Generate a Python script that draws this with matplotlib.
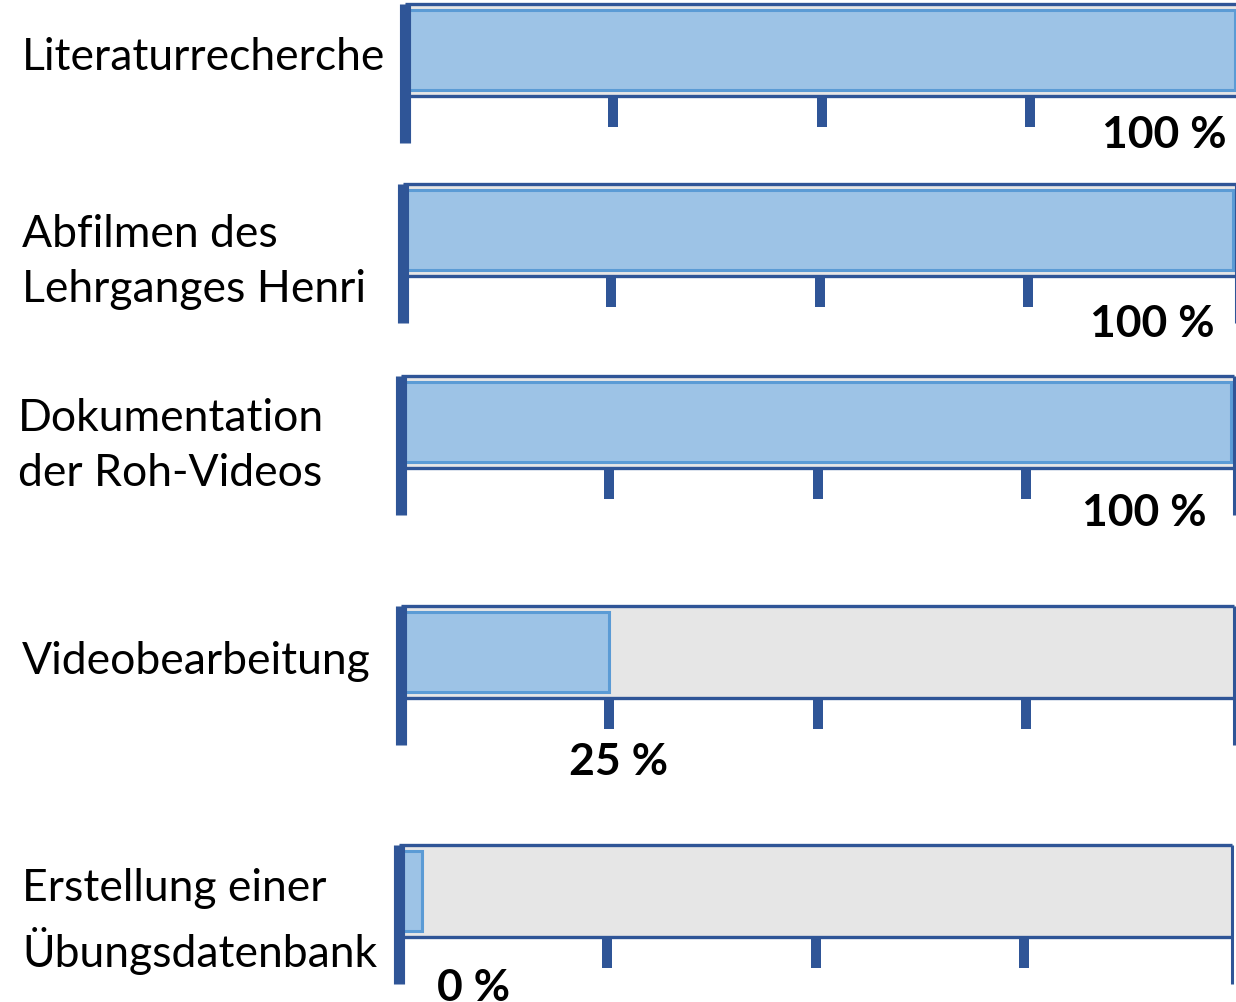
import matplotlib
matplotlib.use('Agg')
import numpy as np
from matplotlib import pyplot as plt
from matplotlib.patches import Rectangle

# data
tasks = ['Literaturrecherche',
         'Abfilmen des\nLehrganges Henri',
         'Dokumentation\nder Roh-Videos',
         'Videobearbeitung',
         'Erstellung einer\nÜbungsdatenbank']
progress = [100, 100, 100, 25, 0]
tick_marks = [25, 50, 75]

# layout in pixels (bars are a bit hand placed in the original)
bar_top = [5, 185, 377, 607, 846]
bar_left = [405, 403, 401, 401, 399]
label_x = [22, 22, 18, 22, 22]
label_y = [57, 262, 446, 662, 922]
pct_dx = [10, 0, -6, 9, 0]
pct_dy = [38, 47, 44, 63, 50]
BAR_H = 92
SCALE = 8.33  # pixels per percent

DARK = '#2F5597'
GRAY = '#E6E6E6'
FILL = '#9DC3E6'
FILL_EDGE = '#5B9BD5'

plt.rcParams['font.family'] = ['Lato', 'DejaVu Sans']

fig = plt.figure(figsize=(12.36, 10.03), dpi=100)
ax = fig.add_axes([0, 0, 1, 1])
ax.set_xlim(-405 / SCALE, (1236 - 405) / SCALE)
ax.set_ylim(1003, 0)
ax.axis('off')

for i, (task, v) in enumerate(zip(tasks, progress)):
    dx = (bar_left[i] - 405) / SCALE
    top = bar_top[i]
    bot = top + BAR_H
    # background track
    ax.add_patch(Rectangle((dx, top), 100, BAR_H, facecolor=GRAY, edgecolor='none', zorder=1))
    # progress fill (0 % still shows a small sliver)
    w = min(max(v, 2.8), 99.6)
    ax.add_patch(Rectangle((dx, top + 6), w, BAR_H - 12, facecolor=FILL,
                           edgecolor=FILL_EDGE, linewidth=2.2, zorder=2))
    ax.hlines([top, bot], dx, dx + 100, color=DARK, linewidth=2.4, zorder=3)
    ax.vlines(dx + 100, top, bot + 47, color=DARK, linewidth=2.2, zorder=3)
    ax.vlines(dx, top, bot + 47, color=DARK, linewidth=8, zorder=4)
    ax.vlines([dx + t for t in tick_marks], bot, bot + 31, color=DARK, linewidth=7.2, zorder=3)

    ax.text(label_x[i] / SCALE - 405 / SCALE, label_y[i], task, fontsize=32,
            ha='left', va='center', linespacing=1.45, color='black')
    px = dx + float(np.clip(v, 9, 90)) + pct_dx[i] / SCALE
    # the last label sits on the lower edge, as in the original
    ax.text(px, bot + pct_dy[i], f'{v} %', fontsize=32, fontweight='bold',
            ha='center', va='center', color='black')

fig.savefig('out.png', dpi=100)
